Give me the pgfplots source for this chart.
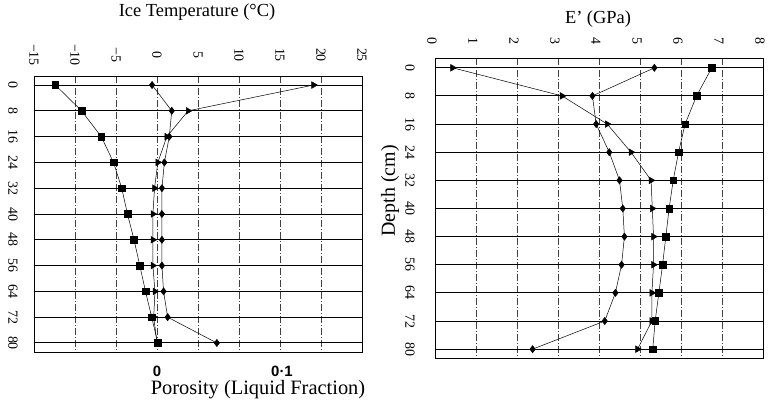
\documentclass[border=0pt]{standalone}
\usepackage{pgfplots}
\pgfplotsset{compat=1.18}
\usepackage{pgfplotstable}
\usepackage{fontspec}
\setmainfont{Liberation Serif}
\newfontfamily\boldsans{Liberation Sans}

% ice temperature profile (left)
\pgfplotstableread{
depth  sq     di    tr
0     -12.4  -0.6  19.1
8      -9.2   1.8   3.8
16     -6.8   1.5   1.2
24     -5.3   0.9   0.1
32     -4.3   0.6  -0.3
40     -3.6   0.6  -0.5
48     -2.8   0.6  -0.5
56     -2.1   0.6  -0.5
64     -1.4   0.8  -0.25
72     -0.65  1.3  -0.4
80      0.1   7.3   0.0
}\temptab

% modulus profile (right)
\pgfplotstableread{
depth  tr    di    sq
0      0.43  5.35  6.75
8      3.10  3.84  6.38
16     4.20  3.93  6.10
24     4.78  4.25  5.94
32     5.27  4.50  5.81
40     5.30  4.58  5.71
48     5.33  4.62  5.63
56     5.33  4.55  5.55
64     5.29  4.40  5.46
72     5.29  4.14  5.37
80     4.94  2.38  5.31
}\modtab

\pgfplotsset{
  profile/.style={
    scale only axis, y dir=reverse,
    ytick={0,8,...,80},
    xticklabel pos=upper,
    major tick length=0pt,
    axis line style={black, line width=0.7bp},
    xmajorgrids, ymajorgrids,
    x grid style={black!75, line width=0.5bp, dash pattern=on 7bp off 2bp on 1bp off 2bp},
    y grid style={black, line width=1bp},
    /pgf/number format/assume math mode=true,
    yticklabel style={anchor=center, font=\fontsize{14}{16}\selectfont},
    xticklabel style={anchor=center, font=\fontsize{14}{16}\selectfont},
    title style={anchor=center, yshift=0pt, font=\fontsize{18.5}{22}\selectfont},
  },
  ser/.style={black, line width=0.5bp, mark options={solid, fill=black}},
}

\begin{document}
\begin{tikzpicture}
\useasboundingbox (0,0) rectangle (772bp,405bp);

% left panel
\begin{axis}[profile,
  at={(34bp,53bp)}, anchor=south west,
  width=328bp, height=276bp,
  xmin=-15, xmax=25, ymin=-2.8, ymax=82.8,
  xtick={-15,-10,...,25},
  xticklabels={−15,−10,−5,0,5,10,15,20,25},
  xticklabel style={yshift=21bp, rotate=-90},
  yticklabel style={xshift=-21bp, rotate=-90},
  title={Ice Temperature (°C)},
  title style={at={(axis description cs:0.497,1.21)}},
]
\addplot[ser, mark=square*, mark size=3.3bp] table[x=sq, y=depth] {\temptab};
\addplot[ser, mark=diamond*, mark size=3.6bp] table[x=di, y=depth] {\temptab};
\addplot[ser, mark=triangle*, mark size=3.8bp, mark options={rotate=-90}] table[x=tr, y=depth] {\temptab};
\end{axis}

% porosity scale under the left panel
\begin{axis}[
  at={(34bp,53bp)}, anchor=south west,
  scale only axis, width=328bp, height=276bp,
  xmin=-0.0984, xmax=0.164, ymin=0, ymax=1,
  axis line style={draw=none}, ytick=\empty,
  xtick={0,0.1}, xticklabels={0,0·1},
  major tick length=0pt,
  xticklabel style={anchor=base, yshift=-24bp, inner sep=1bp, font=\boldsans\bfseries\fontsize{15}{17}\selectfont},
  xlabel={Porosity (Liquid Fraction)},
  xlabel style={at={(axis description cs:0.683,-0.1522)}, anchor=base, inner sep=1bp, font=\fontsize{20.5}{24}\selectfont},
]
\end{axis}

% right panel
\begin{axis}[profile,
  at={(435bp,46.7bp)}, anchor=south west,
  width=328bp, height=300bp,
  xmin=0, xmax=8, ymin=-2.7, ymax=82.6,
  xtick={0,...,8},
  xticklabel style={yshift=17bp, xshift=-3bp, rotate=-90},
  yticklabel style={xshift=-25bp, rotate=-90},
  title={E' (GPa)},
  title style={at={(axis description cs:0.497,1.111)}},
  ylabel={Depth (cm)},
  ylabel style={at={(axis description cs:-0.137,0.558)}, anchor=center, font=\fontsize{20}{24}\selectfont},
]
\addplot[ser, mark=triangle*, mark size=3.8bp, mark options={rotate=-90}] table[x=tr, y=depth] {\modtab};
\addplot[ser, mark=diamond*, mark size=3.6bp] table[x=di, y=depth] {\modtab};
\addplot[ser, mark=square*, mark size=3.3bp] table[x=sq, y=depth] {\modtab};
\end{axis}
\end{tikzpicture}
\end{document}
